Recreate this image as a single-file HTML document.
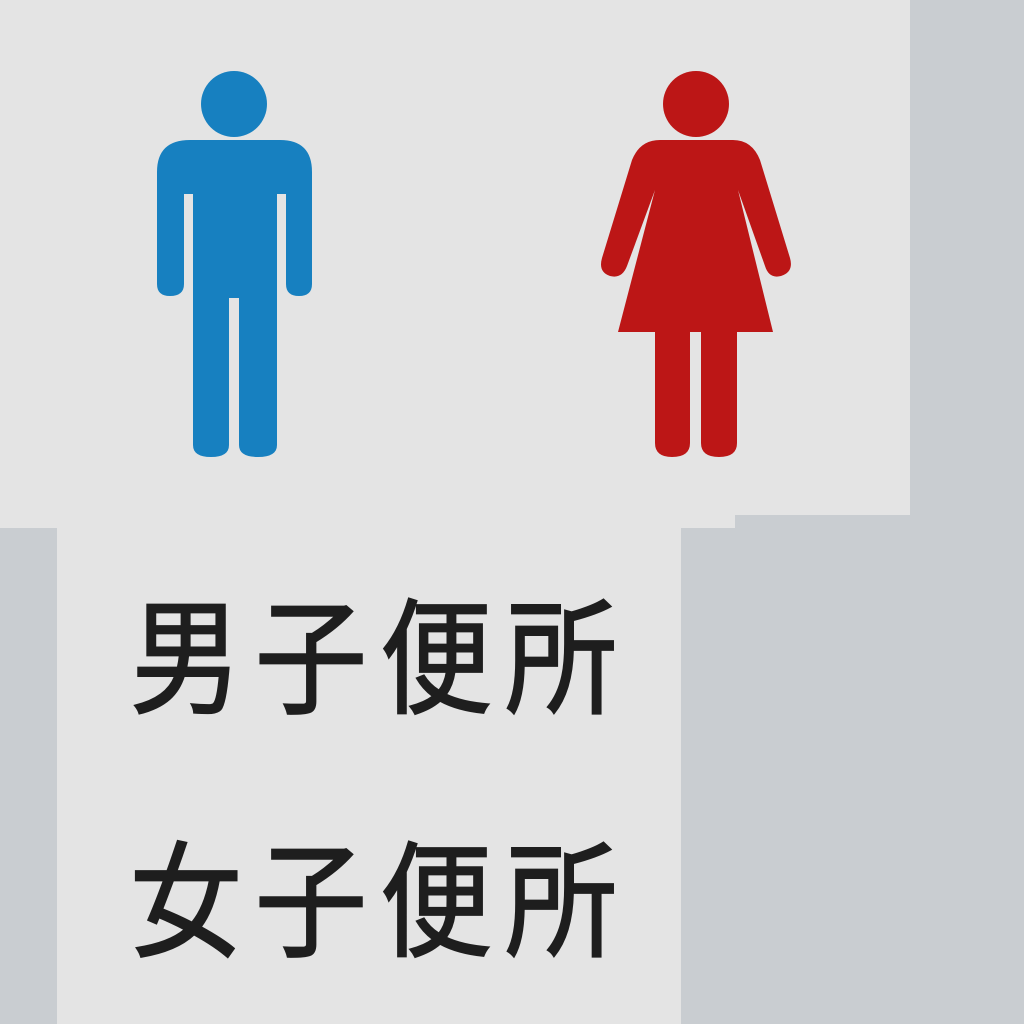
<!DOCTYPE html>
<html><head><meta charset="utf-8"><style>
html,body{margin:0;padding:0;}
body{width:1024px;height:1024px;background:#c9cdd1;position:relative;overflow:hidden;}
.panel{position:absolute;background:#e4e4e4;}
.txt{position:absolute;left:130px;font-family:"Liberation Sans","Noto Sans CJK JP",sans-serif;font-size:112px;letter-spacing:13px;color:#1e1e1e;line-height:1;white-space:nowrap;-webkit-text-stroke:1.6px #1e1e1e;transform:scaleY(1.12);transform-origin:0 0;}
</style></head><body>
<div class="panel" style="left:0;top:0;width:910px;height:515px;"></div>
<div class="panel" style="left:0;top:515px;width:735px;height:13px;"></div>
<div class="panel" style="left:57px;top:528px;width:624px;height:496px;"></div>
<svg width="1024" height="1024" style="position:absolute;left:0;top:0">
<g fill="#1780c0">
<circle cx="234" cy="104" r="33"/>
<path d="M190 140 H280 Q312 140 312 172 V284 Q312 296 299 296 Q286 296 286 284 V194 H277 V445 Q277 457 258 457 Q239 457 239 445 V298 H229 V445 Q229 457 211 457 Q193 457 193 445 V194 H184 V284 Q184 296 170 296 Q157 296 157 284 V172 Q157 140 190 140 Z"/>
</g>
<g fill="#bc1616">
<circle cx="696" cy="104" r="33"/>
<path d="M660 140 H733 Q752 140 760 160 L790 258 Q794 272 781 276 Q769 279 765 266 L738 190 L773 332 H618 L655 190 L627 266 Q622 279 610 276 Q598 272 602 258 L632 160 Q640 140 660 140 Z"/>
<path d="M655 330 H690 V443 Q690 457 672 457 Q655 457 655 443 Z"/>
<path d="M701 330 H737 V443 Q737 457 719 457 Q701 457 701 443 Z"/>
</g>
</svg>
<div class="txt" style="top:598px;">男子便所</div>
<div class="txt" style="top:841px;">女子便所</div>
</body></html>
